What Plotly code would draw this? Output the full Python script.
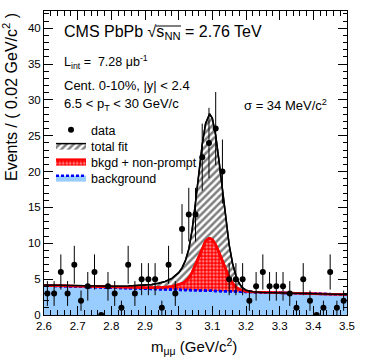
import numpy as np
import plotly.graph_objects as go

# ---------------- data ----------------
bin_centers = [2.61, 2.63, 2.65, 2.67, 2.69, 2.71, 2.73, 2.75, 2.77, 2.79,
               2.81, 2.83, 2.85, 2.87, 2.89, 2.91, 2.93, 2.95, 2.97, 2.99,
               3.01, 3.03, 3.05, 3.07, 3.09, 3.11, 3.13, 3.15, 3.17, 3.19,
               3.21, 3.23, 3.25, 3.27, 3.29, 3.31, 3.33, 3.35, 3.37, 3.39,
               3.41, 3.43, 3.45, 3.47, 3.49]
counts = [3, 3, 6, 3, 7, 2, 4, 6, 0, 4,
          3, 1, 7, 3, 5, 5, 5, 1, 7, 3,
          12, 14, 14, 22, 24, 26, 20, 5, 5, 5,
          2, 4, 6, 4, 4, 4, 3, 1, 5, 2,
          0, 1, 6, 1, 2]

fit_mass = [2.60, 2.65, 2.70, 2.75, 2.80, 2.85, 2.90, 2.92, 2.94, 2.96, 2.98,
            3.00, 3.01, 3.02, 3.03, 3.04, 3.05, 3.06, 3.07, 3.08, 3.09, 3.092,
            3.10, 3.11, 3.12, 3.13, 3.14, 3.15, 3.16, 3.17, 3.18, 3.19, 3.20,
            3.22, 3.25, 3.30, 3.35, 3.40, 3.45, 3.50]
total_fit = [4.18, 4.11, 4.06, 4.02, 4.00, 4.03, 4.15, 4.26, 4.42, 4.68, 5.11,
             5.91, 6.58, 7.58, 9.16, 11.88, 15.69, 19.86, 23.78, 26.71, 28.02, 28.06,
             27.43, 25.06, 21.42, 17.24, 13.20, 9.78, 7.22, 5.47, 4.39, 3.78, 3.46,
             3.23, 3.15, 3.09, 3.03, 2.97, 2.91, 2.85]
nonprompt_fit = [4.12, 4.05, 3.97, 3.91, 3.85, 3.80, 3.79, 3.80, 3.82, 3.88, 3.99,
                 4.21, 4.40, 4.68, 5.15, 5.95, 7.07, 8.30, 9.46, 10.32, 10.70, 10.71,
                 10.52, 9.80, 8.71, 7.46, 6.24, 5.22, 4.44, 3.91, 3.58, 3.39, 3.29,
                 3.20, 3.15, 3.09, 3.03, 2.97, 2.91, 2.85]
background_fit = [4.10, 4.02, 3.94, 3.86, 3.78, 3.71, 3.63, 3.60, 3.57, 3.55, 3.52,
                  3.49, 3.47, 3.46, 3.45, 3.43, 3.42, 3.41, 3.39, 3.38, 3.36, 3.36,
                  3.35, 3.34, 3.32, 3.31, 3.30, 3.28, 3.27, 3.26, 3.24, 3.23, 3.22,
                  3.19, 3.15, 3.09, 3.03, 2.97, 2.91, 2.85]

x_tick_vals = [2.6, 2.7, 2.8, 2.9, 3.0, 3.1, 3.2, 3.3, 3.4, 3.5]
x_tick_text = ["2.6", "2.7", "2.8", "2.9", "3", "3.1", "3.2", "3.3", "3.4", "3.5"]
y_tick_vals = [0, 5, 10, 15, 20, 25, 30, 35, 40]

errors = np.sqrt(np.array(counts, dtype=float))

# ---------------- layout geometry ----------------
W, H = 374, 359
L, R, T, B = 44, 347, 11, 315


def px(xp):
    return (xp - L) / (R - L)


def py(yp):
    return (B - yp) / (B - T)


FONT = "Liberation Sans, Arial, Helvetica, sans-serif"
BLUE_FILL = "#99ccff"
BLUE_DASH = "3px,2px"

fig = go.Figure()

# filled areas (with legend entries)
fig.add_trace(go.Scatter(
    x=fit_mass, y=total_fit, mode="lines", name="total fit", legend="legend2",
    fill="tozeroy", fillcolor="white",
    fillpattern=dict(shape="/", fgcolor="black", bgcolor="white", size=5, solidity=0.5),
    line=dict(color="black", width=1.5), hoverinfo="skip"))
fig.add_trace(go.Scatter(
    x=fit_mass, y=nonprompt_fit, mode="lines", name="bkgd + non-prompt", legend="legend3",
    fill="tozeroy", fillcolor="red",
    fillpattern=dict(shape=".", fgcolor="white", bgcolor="red", size=3.5, solidity=0.45),
    line=dict(color="red", width=2.5), hoverinfo="skip"))
fig.add_trace(go.Scatter(
    x=fit_mass, y=background_fit, mode="lines", name="background", legend="legend4",
    fill="tozeroy", fillcolor=BLUE_FILL,
    line=dict(color="blue", width=2.5, dash=BLUE_DASH), hoverinfo="skip"))

# curves on top
fig.add_trace(go.Scatter(x=fit_mass, y=background_fit, mode="lines", showlegend=False,
                         line=dict(color="blue", width=2.5, dash=BLUE_DASH), hoverinfo="skip"))
fig.add_trace(go.Scatter(x=fit_mass, y=nonprompt_fit, mode="lines", showlegend=False,
                         line=dict(color="red", width=2.5), hoverinfo="skip"))
fig.add_trace(go.Scatter(x=fit_mass, y=total_fit, mode="lines", showlegend=False,
                         line=dict(color="black", width=1.5), hoverinfo="skip"))

# data
fig.add_trace(go.Scatter(
    x=bin_centers, y=counts, mode="markers", name="data", legend="legend",
    marker=dict(color="black", size=6),
    error_y=dict(type="data", array=errors, color="black", thickness=1, width=0)))

axis_common = dict(showline=True, linecolor="black", linewidth=1, mirror="allticks",
                   ticks="inside", tickcolor="black", tickwidth=1, ticklen=9,
                   showgrid=False, zeroline=False,
                   tickfont=dict(family=FONT, size=11.5, color="black"))

fig.update_xaxes(range=[2.6, 3.5], tickvals=x_tick_vals, ticktext=x_tick_text,
                 minor=dict(dtick=0.02, ticks="inside", ticklen=5, tickcolor="black", showgrid=False),
                 **axis_common)
fig.update_yaxes(range=[0, 42.4], tickvals=y_tick_vals,
                 minor=dict(dtick=1, ticks="inside", ticklen=4.5, tickcolor="black", showgrid=False),
                 **axis_common)

ann = []


def text(xp, yp, s, size, xanchor="left", yanchor="middle", angle=0):
    ann.append(dict(x=px(xp), y=py(yp), xref="paper", yref="paper", text=s,
                    showarrow=False, xanchor=xanchor, yanchor=yanchor, textangle=angle,
                    font=dict(family=FONT, size=size, color="black")))


text(62, 33, "CMS PbPb √s<sub>NN</sub> = 2.76 TeV", 16)
text(62, 62, "L<sub>int</sub> =  7.28 μb<sup>-1</sup>", 12.5)
text(62, 85, "Cent. 0-10%, |y| < 2.4", 13)
text(62, 104, "6.5 < p<sub>T</sub> < 30 GeV/c", 13)
text(242, 105, "σ = 34 MeV/c<sup>2</sup>", 13)
text(194, 347, "m<sub>μμ</sub> (GeV/c<sup>2</sup>)", 15, xanchor="center")
text(10, 11, "Events / ( 0.02 GeV/c<sup>2</sup> )", 16, xanchor="center", yanchor="top", angle=-90)

legend_rows = [130, 146, 162, 178]


def legend_box(row_y):
    return dict(x=px(51), y=py(row_y), xanchor="left", yanchor="middle",
                bgcolor="rgba(0,0,0,0)", borderwidth=0,
                font=dict(family=FONT, size=12.5, color="black"),
                itemwidth=30, tracegroupgap=0)


fig.update_layout(
    width=W, height=H,
    margin=dict(l=L, r=W - R, t=T, b=H - B, pad=0),
    paper_bgcolor="white", plot_bgcolor="white",
    font=dict(family=FONT, color="black"),
    annotations=ann,
    shapes=[dict(type="line", xref="paper", yref="paper",
                 x0=px(156), x1=px(181), y0=py(26), y1=py(26),
                 line=dict(color="black", width=1))],
    legend=legend_box(legend_rows[0]),
    legend2=legend_box(legend_rows[1]),
    legend3=legend_box(legend_rows[2]),
    legend4=legend_box(legend_rows[3]),
    showlegend=True,
)

fig.write_html("out.html", config={"displayModeBar": False},
               post_script="document.body.style.margin='0px';")
